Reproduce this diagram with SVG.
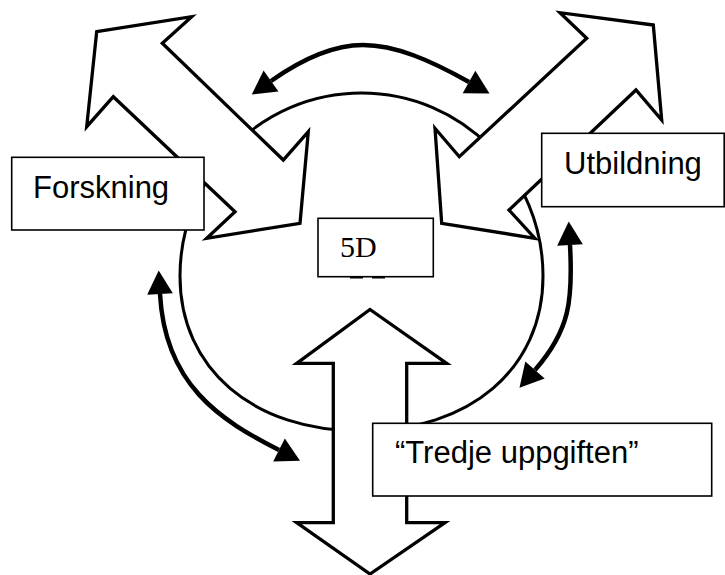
<svg xmlns="http://www.w3.org/2000/svg" width="725" height="575" viewBox="0 0 725 575">
<style>
.ring{fill:none;stroke:#000;stroke-width:3}
.blk{fill:#fff;stroke:#000;stroke-width:3.3;stroke-linejoin:miter}
.box{fill:#fff;stroke:#000;stroke-width:1.6}
.lbl{font-family:"Liberation Sans",Arial,sans-serif;font-size:31px;fill:#000}
.ser{font-family:"Liberation Serif","Times New Roman",serif;font-size:30px;fill:#000}
.cv{fill:none;stroke:#000;stroke-width:4.5;marker-start:url(#ah);marker-end:url(#ah)}
</style>
<defs>
<marker id="ah" markerUnits="userSpaceOnUse" markerWidth="30" markerHeight="30" viewBox="-2 -14 28 28" refX="0" refY="0" orient="auto-start-reverse" overflow="visible">
<path d="M0,-12 L22,0 L0,12 Z" fill="#000"/>
</marker>
</defs>
<g id="center-ring">
<path class="ring" d="M180,276 C180,175 261,93 361.5,93 C462,93 543,175 543,276 C543,369 470,431 361.5,431 C253,431 180,369 180,276 Z"/>
</g>
<g id="arrow-forskning">
<polygon class="blk" points="96.7,31.7 191.7,16.7 162.3,43.3 283.3,160 308.3,131.7 300,223.3 206.7,238.3 235,211.7 113.3,96.7 86.7,126.7"/>
</g>
<g id="arrow-utbildning">
<polygon class="blk" points="653.3,25 560,12.7 586.7,38.3 459.3,156.7 435,128.3 441.7,223.3 535,238.3 509,210 636,90 661.7,120"/>
</g>
<g id="arrow-tredje">
<polygon class="blk" points="370,309.5 446.7,363.3 406.7,363.3 406.7,522.7 445,522.7 370,574 296.7,522.7 333.3,522.7 333.3,363.3 296.7,363.3"/>
</g>
<g id="node-forskning">
<rect class="box" x="11.7" y="157.3" width="192.3" height="72.7"/>
<text class="lbl" x="33" y="198.3">Forskning</text>
</g>
<g id="node-utbildning">
<rect class="box" x="541.7" y="133.3" width="182.5" height="73.4"/>
<text class="lbl" x="564" y="174">Utbildning</text>
</g>
<g id="node-tredje">
<rect class="box" x="372.7" y="423.3" width="339" height="72.7"/>
<text class="lbl" x="395" y="462.7">“Tredje uppgiften”</text>
</g>
<g id="node-5d">
<rect class="box" x="318" y="218.3" width="115.3" height="58.4"/>
<rect x="350" y="276" width="13" height="2.5" fill="#000"/>
<rect x="372" y="276" width="13" height="2.5" fill="#000"/>
<text class="ser" x="340" y="256.7">5D</text>
</g>
<g id="connectors">
<path class="cv" d="M271,81 C305,57 335,45 363,45 C395,45 430,60 469,82"/>
<path class="cv" d="M160,294 C165,385 220,420 279,450"/>
<path class="cv" d="M570,245 C573,300 570,330 535,370"/>
</g>
</svg>
